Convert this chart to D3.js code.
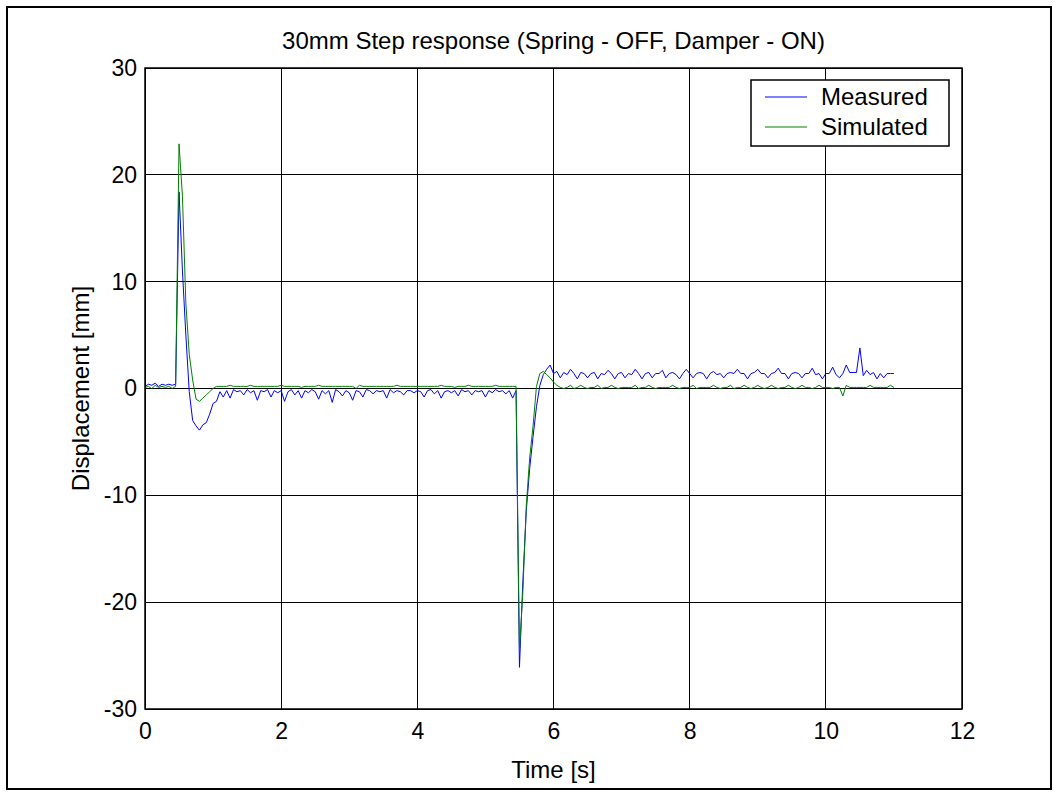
<!DOCTYPE html>
<html>
<head>
<meta charset="utf-8">
<script src="https://cdn.jsdelivr.net/npm/d3@7"></script>
<style>
  body { margin: 0; background: #fff; }
  text { font-family: "Liberation Sans", Arial, sans-serif; fill: #000; }
</style>
</head>
<body>
<svg id="chart" width="1058" height="796"></svg>
<script>
// sampling step of both series [s]
var dt = 0.05;

var measured = [
  0.2,0.4,0.3,0.5,0.2,0.4,0.3,0.4,0.3,0.4,
  18.4,11.0,5.0,-0.3,-3.0,-3.5,-3.9,-3.4,-3.2,-2.4,-1.4,-1.2,-0.3,-0.8,
  -0.2,-0.9,-0.1,-0.3,-0.2,-0.6,
  -0.1,-0.4,-0.2,-1.1,-0.2,-0.3,-0.1,-0.8,-0.2,-0.4,
  -0.2,-1.2,-0.3,-0.1,-0.6,-0.2,-0.9,-0.2,-0.4,-0.1,
  -0.3,-1.0,-0.2,-0.5,-0.2,-1.3,-0.1,-0.3,-0.7,-0.2,
  -0.4,-1.1,-0.2,-0.3,-0.8,-0.1,-0.2,-0.5,-0.2,-0.3,
  -0.2,-0.9,-0.1,-0.4,-0.2,-0.3,-0.6,-0.2,-0.2,-0.4,
  -0.2,-0.3,-0.8,-0.2,-0.1,-0.5,-0.2,-0.9,-0.3,-0.2,
  -0.4,-0.2,-0.7,-0.1,-0.3,-0.2,-0.6,-0.2,-0.3,-0.2,
  -0.8,-0.2,-0.4,-0.1,-0.3,-0.2,-0.5,-0.2,-0.9,-0.2,
  -26.1,-18.0,-11.5,-7.5,-4.5,-1.7,0.3,1.3,1.8,2.2,1.4,
  1.6,1.0,1.5,1.3,1.8,1.4,0.9,1.5,1.4,1.0,
  1.4,1.5,0.9,1.4,1.3,1.7,1.4,0.9,1.4,1.5,
  1.0,1.4,1.3,1.8,1.4,0.9,1.4,1.5,1.0,1.4,
  1.4,1.7,1.0,1.4,1.5,1.3,0.9,1.4,1.8,1.4,
  1.0,1.4,1.5,1.4,0.9,1.4,1.6,1.3,1.4,1.0,
  1.4,1.5,1.4,1.8,1.4,1.4,0.9,1.4,1.5,1.8,
  1.4,1.4,1.0,1.4,1.5,1.9,1.4,1.4,0.9,1.4,
  1.5,1.4,1.0,1.4,1.4,1.9,1.3,1.4,0.9,1.4,
  1.4,2.0,1.3,1.0,1.4,2.2,1.5,1.5,1.5,3.8,
  1.2,1.7,1.3,1.5,0.9,1.4,1.0,1.4,1.4,1.4
];

var simulated = [
  0.1,0.2,0.0,0.3,0.1,0.2,0.1,0.2,0.0,0.2,
  22.9,18.0,8.0,3.2,0.8,-1.0,-1.2,-0.9,-0.6,-0.3,0.0,0.2,0.2,0.2,
  0.2,0.3,0.2,0.2,0.2,0.2,
  0.2,0.3,0.2,0.2,0.2,0.2,0.2,0.2,0.2,0.2,
  0.3,0.2,0.2,0.2,0.2,0.2,0.1,0.2,0.2,0.2,
  0.2,0.3,0.2,0.2,0.2,0.2,0.2,0.2,0.2,0.2,
  0.2,0.2,0.0,0.3,0.2,0.2,0.2,0.2,0.2,0.2,
  0.2,0.2,0.2,0.2,0.3,0.2,0.2,0.2,0.2,0.2,
  0.2,0.2,0.2,0.2,0.2,0.2,0.2,0.3,0.2,0.2,
  0.2,0.1,0.2,0.2,0.2,0.3,0.2,0.2,0.2,0.2,
  0.2,0.2,0.2,0.3,0.2,0.2,0.2,0.2,0.2,0.2,
  -24.5,-19.0,-11.0,-6.5,-3.5,0.2,1.4,1.6,1.3,1.0,0.6,
  0.3,0.1,0.0,0.1,0.3,0.0,0.1,0.3,0.1,0.0,
  0.1,0.1,0.3,0.0,0.1,0.1,0.3,0.1,0.0,0.1,
  0.1,0.1,0.1,0.3,0.0,0.1,0.1,0.3,0.1,0.0,
  0.1,0.1,0.1,0.1,0.3,0.1,0.0,0.1,0.1,0.1,
  0.3,0.0,0.1,0.1,0.1,0.1,0.3,0.1,0.0,0.1,
  0.1,0.3,0.0,0.1,0.1,0.3,0.1,0.0,0.1,0.3,
  0.1,0.0,0.1,0.3,0.1,0.0,0.1,0.1,0.3,0.1,
  0.0,0.1,0.3,0.1,0.1,0.0,0.1,0.3,0.1,0.1,
  0.1,0.0,0.1,0.1,-0.7,0.3,0.1,0.1,0.1,0.1,
  0.1,0.1,0.3,0.1,0.1,0.1,0.1,0.1,0.3,0.1
];

var xTicks = [0, 2, 4, 6, 8, 10, 12];
var yTicks = [-30, -20, -10, 0, 10, 20, 30];
var seriesNames = ["Measured", "Simulated"];
var seriesColors = ["#0000ff", "#008000"];

var titleText = "30mm Step response (Spring - OFF, Damper - ON)";
var xLabel = "Time [s]";
var yLabel = "Displacement [mm]";

var svg = d3.select("#chart");
var margin = { left: 145, right: 962, top: 68, bottom: 709 };

// outer figure frame
svg.append("rect")
  .attr("x", 7).attr("y", 7)
  .attr("width", 1044).attr("height", 782)
  .attr("fill", "none").attr("stroke", "#000").attr("stroke-width", 2);

var x = d3.scaleLinear().domain([0, 12]).range([margin.left, margin.right]);
var y = d3.scaleLinear().domain([-30, 30]).range([margin.bottom, margin.top]);

// grid
svg.append("g").selectAll("line")
  .data(xTicks).enter().append("line")
  .attr("x1", d => x(d)).attr("x2", d => x(d))
  .attr("y1", margin.top).attr("y2", margin.bottom)
  .attr("stroke", "#000").attr("stroke-width", 1)
  .attr("shape-rendering", "crispEdges");

svg.append("g").selectAll("line")
  .data(yTicks).enter().append("line")
  .attr("x1", margin.left).attr("x2", margin.right)
  .attr("y1", d => y(d)).attr("y2", d => y(d))
  .attr("stroke", "#000").attr("stroke-width", 1)
  .attr("shape-rendering", "crispEdges");

// axes (tick labels only, ticks sit on the grid)
var fmt = d => String(d);   // plain hyphen minus like the original
var xAxis = svg.append("g")
  .attr("transform", "translate(0," + margin.bottom + ")")
  .call(d3.axisBottom(x).tickValues(xTicks).tickFormat(fmt).tickSize(0).tickPadding(14));
var yAxis = svg.append("g")
  .attr("transform", "translate(" + margin.left + ",0)")
  .call(d3.axisLeft(y).tickValues(yTicks).tickFormat(fmt).tickSize(0).tickPadding(8));
[xAxis, yAxis].forEach(function (g) {
  g.select(".domain").remove();
  g.selectAll("text")
    .style("font-family", "'Liberation Sans', Arial, sans-serif")
    .style("font-size", "23px")
    .attr("fill", "#000");
});

// series
var line = d3.line()
  .x((d, i) => x(i * dt))
  .y(d => y(d));

[measured, simulated].forEach(function (s, k) {
  svg.append("path")
    .datum(s)
    .attr("d", line)
    .attr("fill", "none")
    .attr("stroke", seriesColors[k])
    .attr("stroke-width", 1)
    .attr("stroke-linejoin", "miter");
});

// plot box
svg.append("rect")
  .attr("x", margin.left).attr("y", margin.top)
  .attr("width", margin.right - margin.left).attr("height", margin.bottom - margin.top)
  .attr("fill", "none").attr("stroke", "#000").attr("stroke-width", 1.5);

// legend
var lg = svg.append("g");
lg.append("rect")
  .attr("x", 751).attr("y", 80).attr("width", 198).attr("height", 66)
  .attr("fill", "#fff").attr("stroke", "#000").attr("stroke-width", 1.5);
seriesNames.forEach(function (name, k) {
  var cy = 97 + k * 30;
  lg.append("line")
    .attr("x1", 765).attr("x2", 807).attr("y1", cy).attr("y2", cy)
    .attr("stroke", seriesColors[k]).attr("stroke-width", 1);
  lg.append("text")
    .attr("x", 821).attr("y", cy).attr("dy", "0.35em")
    .style("font-size", "24px")
    .text(name);
});

// titles
svg.append("text")
  .attr("x", (margin.left + margin.right) / 2).attr("y", 49)
  .attr("text-anchor", "middle").style("font-size", "24px")
  .text(titleText);
svg.append("text")
  .attr("x", (margin.left + margin.right) / 2).attr("y", 778)
  .attr("text-anchor", "middle").style("font-size", "24px")
  .text(xLabel);
svg.append("text")
  .attr("transform", "translate(89," + (margin.top + margin.bottom) / 2 + ") rotate(-90)")
  .attr("text-anchor", "middle").style("font-size", "24px")
  .text(yLabel);
</script>
</body>
</html>
